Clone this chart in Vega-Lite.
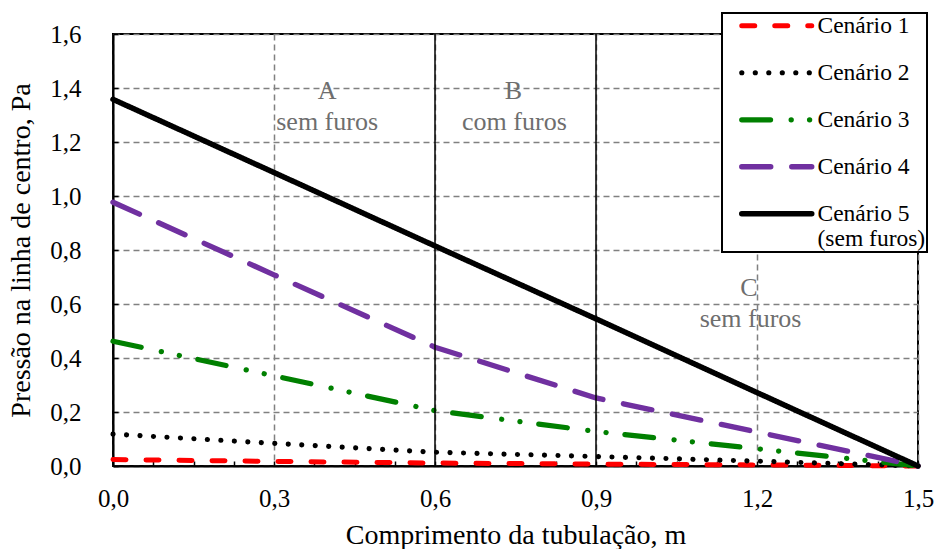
{
  "$schema": "https://vega.github.io/schema/vega-lite/v6.json",
  "width": 805,
  "height": 432,
  "autosize": {"type": "none"},
  "padding": {"left": 113, "top": 34, "right": 18, "bottom": 83},
  "background": "white",
  "config": {
    "view": {"stroke": "black", "strokeWidth": 2},
    "font": "Liberation Serif",
    "axis": {
      "domainColor": "black",
      "domainWidth": 2,
      "tickColor": "black",
      "tickWidth": 1.5,
      "tickSize": -5,
      "labelFont": "Liberation Serif",
      "labelFontSize": 25,
      "labelColor": "black",
      "titleFont": "Liberation Serif",
      "titleFontSize": 28,
      "titleFontWeight": "normal",
      "titleColor": "black",
      "gridColor": "#808080",
      "gridDash": [6, 4],
      "gridWidth": 1.5
    },
    "style": {
      "guide-label": {"font": "Liberation Serif"},
      "guide-title": {"font": "Liberation Serif"}
    }
  },
  "datasets": {
    "lines": [
      {"serie": "Cenário 1", "x": 0, "y": 0.024},
      {"serie": "Cenário 1", "x": 0.3, "y": 0.017},
      {"serie": "Cenário 1", "x": 0.6, "y": 0.011},
      {"serie": "Cenário 1", "x": 0.9, "y": 0.007},
      {"serie": "Cenário 1", "x": 1.2, "y": 0.004},
      {"serie": "Cenário 1", "x": 1.5, "y": 0},
      {"serie": "Cenário 2", "x": 0, "y": 0.118},
      {"serie": "Cenário 2", "x": 0.3, "y": 0.084},
      {"serie": "Cenário 2", "x": 0.6, "y": 0.051},
      {"serie": "Cenário 2", "x": 0.9, "y": 0.035},
      {"serie": "Cenário 2", "x": 1.2, "y": 0.018},
      {"serie": "Cenário 2", "x": 1.5, "y": 0},
      {"serie": "Cenário 3", "x": 0, "y": 0.462},
      {"serie": "Cenário 3", "x": 0.3, "y": 0.334},
      {"serie": "Cenário 3", "x": 0.6, "y": 0.205},
      {"serie": "Cenário 3", "x": 0.9, "y": 0.128},
      {"serie": "Cenário 3", "x": 1.2, "y": 0.064},
      {"serie": "Cenário 3", "x": 1.5, "y": 0},
      {"serie": "Cenário 4", "x": 0, "y": 0.977},
      {"serie": "Cenário 4", "x": 0.3, "y": 0.708},
      {"serie": "Cenário 4", "x": 0.6, "y": 0.44},
      {"serie": "Cenário 4", "x": 0.9, "y": 0.252},
      {"serie": "Cenário 4", "x": 1.2, "y": 0.126},
      {"serie": "Cenário 4", "x": 1.5, "y": 0},
      {"serie": "Cenário 5", "x": 0, "y": 1.358},
      {"serie": "Cenário 5", "x": 0.3, "y": 1.087},
      {"serie": "Cenário 5", "x": 0.6, "y": 0.815},
      {"serie": "Cenário 5", "x": 0.9, "y": 0.545},
      {"serie": "Cenário 5", "x": 1.2, "y": 0.272},
      {"serie": "Cenário 5", "x": 1.5, "y": 0}
    ],
    "sections": [{"x": 0.6}, {"x": 0.9}],
    "notes": [
      {"x": 0.399, "y": 1.359, "text": "A"},
      {"x": 0.399, "y": 1.243, "text": "sem furos"},
      {"x": 0.746, "y": 1.359, "text": "B"},
      {"x": 0.748, "y": 1.243, "text": "com furos"},
      {"x": 1.185, "y": 0.631, "text": "C"},
      {"x": 1.188, "y": 0.516, "text": "sem furos"}
    ]
  },
  "layer": [
    {
      "data": {"name": "lines"},
      "mark": {"type": "line", "strokeCap": "round", "strokeJoin": "round"},
      "encoding": {
        "x": {
          "field": "x", "type": "quantitative",
          "scale": {"domain": [0, 1.5], "nice": false, "zero": false},
          "axis": {
            "title": "Comprimento da tubulação, m",
            "values": [0, 0.075, 0.15, 0.225, 0.3, 0.375, 0.45, 0.525, 0.6, 0.675, 0.75, 0.825, 0.9, 0.975, 1.05, 1.125, 1.2, 1.275, 1.35, 1.425, 1.5],
            "labelExpr": "abs(datum.value/0.3 - round(datum.value/0.3)) < 0.001 ? replace(format(datum.value, '.1f'), '.', ',') : ''",
            "labelFont": "Liberation Serif",
            "titleFont": "Liberation Serif",
            "labelPadding": 25,
            "labelFlush": false,
            "labelOverlap": false,
            "titlePadding": 10,
            "grid": true,
            "gridOpacity": {"condition": {"test": "abs(datum.value/0.3 - round(datum.value/0.3)) < 0.001", "value": 1}, "value": 0}
          }
        },
        "y": {
          "field": "y", "type": "quantitative",
          "scale": {"domain": [0, 1.6], "nice": false, "zero": false},
          "axis": {
            "title": "Pressão na linha de centro, Pa",
            "values": [0, 0.05, 0.1, 0.15, 0.2, 0.25, 0.3, 0.35, 0.4, 0.45, 0.5, 0.55, 0.6, 0.65, 0.7, 0.75, 0.8, 0.85, 0.9, 0.95, 1.0, 1.05, 1.1, 1.15, 1.2, 1.25, 1.3, 1.35, 1.4, 1.45, 1.5, 1.55, 1.6],
            "labelExpr": "abs(datum.value*5 - round(datum.value*5)) < 0.001 ? replace(format(datum.value, '.1f'), '.', ',') : ''",
            "labelFont": "Liberation Serif",
            "titleFont": "Liberation Serif",
            "labelPadding": 37,
            "labelFlush": false,
            "labelOverlap": false,
            "titlePadding": 14,
            "grid": true,
            "gridOpacity": {"condition": {"test": "abs(datum.value*5 - round(datum.value*5)) < 0.001", "value": 1}, "value": 0}
          }
        },
        "color": {
          "field": "serie", "type": "nominal",
          "scale": {
            "domain": ["Cenário 1", "Cenário 2", "Cenário 3", "Cenário 4", "Cenário 5"],
            "range": ["#ff0000", "#000000", "#008000", "#7030a0", "#000000"]
          },
          "legend": {
            "orient": "none",
            "legendX": 609,
            "legendY": -21,
            "title": null,
            "symbolType": "M-7,0H7",
            "symbolSize": 100,
            "symbolStrokeWidth": 4.5,
            "symbolOffset": 42,
            "labelFont": "Liberation Serif",
            "labelFontSize": 23.5,
            "labelColor": "black",
            "labelOffset": 29,
            "labelLimit": 300,
            "labelExpr": "datum.label == 'Cenário 5' ? ['Cenário 5', '(sem furos)\u00a0\u00a0\u00a0'] : datum.label",
            "rowPadding": 22,
            "padding": 1,
            "strokeColor": "black",
            "fillColor": "white",
            "encode": {
              "legend": {"update": {"strokeWidth": {"value": 2}}},
              "symbols": {"update": {"strokeCap": {"value": "round"}, "fill": {"value": "transparent"}}},
              "labels": {"update": {"font": {"value": "Liberation Serif"}}}
            }
          }
        },
        "strokeDash": {
          "field": "serie", "type": "nominal",
          "scale": {
            "domain": ["Cenário 1", "Cenário 2", "Cenário 3", "Cenário 4", "Cenário 5"],
            "range": [[13, 20], [0.1, 13.4], [28.8, 20.6, 0.1, 18.3, 0.1, 18.9], [29, 21], [1, 0]]
          },
          "legend": null
        },
        "strokeWidth": {
          "field": "serie", "type": "nominal",
          "scale": {
            "domain": ["Cenário 1", "Cenário 2", "Cenário 3", "Cenário 4", "Cenário 5"],
            "range": [5, 5.5, 5, 5, 4]
          },
          "legend": null
        }
      }
    },
    {
      "data": {"name": "sections"},
      "mark": {"type": "rule", "color": "black", "strokeWidth": 1.5},
      "encoding": {
        "x": {"field": "x", "type": "quantitative"}
      }
    },
    {
      "data": {"name": "notes"},
      "mark": {"type": "text", "font": "Liberation Serif", "fontSize": 26, "color": "#6e6e6e", "align": "center", "baseline": "alphabetic"},
      "encoding": {
        "x": {"field": "x", "type": "quantitative"},
        "y": {"field": "y", "type": "quantitative"},
        "text": {"field": "text", "type": "nominal"}
      }
    }
  ]
}
